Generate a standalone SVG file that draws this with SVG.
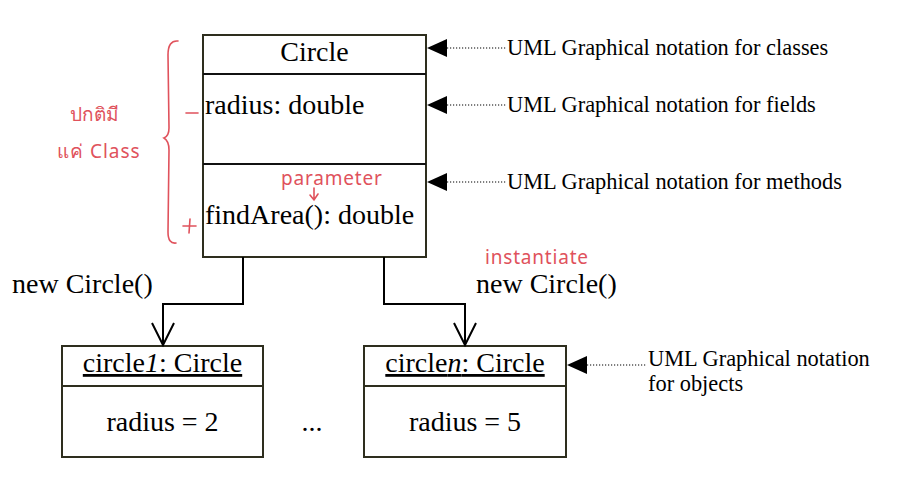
<svg xmlns="http://www.w3.org/2000/svg" width="906" height="502" viewBox="0 0 906 502">
<style>
.box{fill:#fff;stroke:#2e2e1e;stroke-width:2}
.div{stroke:#111;stroke-width:2}
.t{font-family:"Liberation Serif","Times New Roman",serif;fill:#000}
.big{font-size:28px}
.note{font-size:22.4px}
.conn{fill:none;stroke:#000;stroke-width:2}
.dot{stroke:#000;stroke-width:1.2;stroke-dasharray:1.2 1.8}
.tri{fill:#000}
.red{font-family:"Noto Sans","DejaVu Sans",sans-serif;fill:#e0525c;font-size:19px}
.redl{fill:none;stroke:#e0525c;stroke-width:1.6;stroke-linecap:round}
</style>
<defs>
<marker id="open" markerWidth="26" markerHeight="26" refX="23" refY="12" orient="auto" markerUnits="userSpaceOnUse" viewBox="0 0 26 26">
<path d="M1 1 L23 12 L1 23" fill="none" stroke="#000" stroke-width="2"/>
</marker>
</defs>
<rect width="906" height="502" fill="#fff"/>

<g id="class-circle">
<rect class="box" x="203" y="35" width="223" height="222"/>
<line class="div" x1="203" y1="74" x2="426" y2="74"/>
<line class="div" x1="203" y1="164" x2="426" y2="164"/>
<text class="t big" x="314.5" y="61" text-anchor="middle">Circle</text>
<text class="t big" x="205" y="114">radius: double</text>
<text class="t big" x="205" y="224">findArea(): double</text>
</g>

<g id="obj-circle1">
<rect class="box" x="62" y="346" width="201" height="111"/>
<line class="box" x1="62" y1="386" x2="263" y2="386"/>
<text class="t big" x="162.5" y="372" text-anchor="middle" text-decoration="underline">circle<tspan font-style="italic">1</tspan>: Circle</text>
<text class="t big" x="162.5" y="431" text-anchor="middle">radius = 2</text>
</g>

<g id="obj-circlen">
<rect class="box" x="364" y="346" width="202" height="111"/>
<line class="box" x1="364" y1="386" x2="566" y2="386"/>
<text class="t big" x="465" y="372" text-anchor="middle" text-decoration="underline">circle<tspan font-style="italic">n</tspan>: Circle</text>
<text class="t big" x="465" y="431" text-anchor="middle">radius = 5</text>
</g>

<g id="ellipsis">
<text class="t big" x="312" y="431" text-anchor="middle">...</text>
</g>

<g id="connectors">
<polyline class="conn" points="243,257 243,304 163,304 163,345" marker-end="url(#open)"/>
<polyline class="conn" points="384,257 384,304 465,304 465,345" marker-end="url(#open)"/>
<text class="t big" x="12" y="293">new Circle()</text>
<text class="t big" x="476" y="293">new Circle()</text>
</g>

<g id="note-classes">
<polygon class="tri" points="427,48 447,39 447,57"/>
<line class="dot" x1="447" y1="48" x2="506" y2="48"/>
<text class="t note" x="507" y="55">UML Graphical notation for classes</text>
</g>
<g id="note-fields">
<polygon class="tri" points="427,105 447,96 447,114"/>
<line class="dot" x1="447" y1="105" x2="506" y2="105"/>
<text class="t note" x="507" y="112">UML Graphical notation for fields</text>
</g>
<g id="note-methods">
<polygon class="tri" points="427,182 447,173 447,191"/>
<line class="dot" x1="447" y1="182" x2="506" y2="182"/>
<text class="t note" x="507" y="189">UML Graphical notation for methods</text>
</g>
<g id="note-objects">
<polygon class="tri" points="567,365 587,356 587,374"/>
<line class="dot" x1="587" y1="365" x2="647" y2="365"/>
<text class="t note" x="648" y="366">UML Graphical notation</text>
<text class="t note" x="648" y="391">for objects</text>
</g>

<g id="handwriting">
<path class="redl" d="M178 41 Q168 40 168 55 L169 128 Q169 136 164 138 Q169 141 169 150 L168 232 Q168 244 176 243"/>
<line class="redl" x1="186" y1="113" x2="198" y2="113"/>
<line class="redl" x1="183" y1="226" x2="196" y2="226"/>
<line class="redl" x1="190" y1="219" x2="189" y2="233"/>
<text class="red" x="70" y="121" font-size="20">ปกติมี</text>
<text class="red" x="57" y="158" letter-spacing="1">แค่ Class</text>
<text class="red" x="281" y="185" letter-spacing="0.8">parameter</text>
<path class="redl" d="M314 188 L314 200 M310 195 L314 200 L318 194"/>
<text class="red" x="485" y="264" letter-spacing="0.8">instantiate</text>
</g>
</svg>
